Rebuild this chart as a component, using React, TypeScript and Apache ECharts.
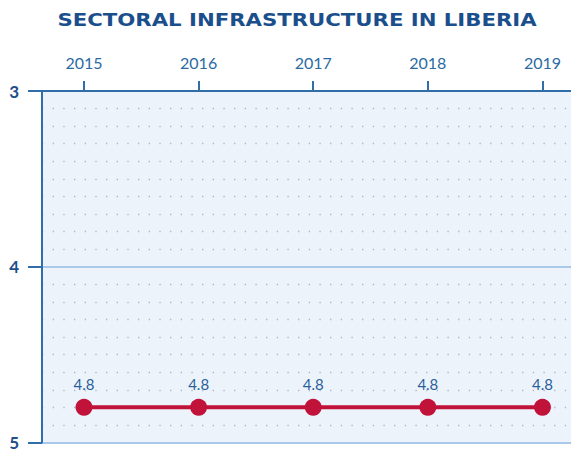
import React, { useEffect, useRef } from "react";
import * as echarts from "echarts";

const title = "SECTORAL INFRASTRUCTURE IN LIBERIA";
const years = [2015, 2016, 2017, 2018, 2019];
const values = [4.8, 4.8, 4.8, 4.8, 4.8];
const yTicks = [3, 4, 5];

export default function App() {
  const ref = useRef<HTMLDivElement>(null);
  useEffect(() => {
    if (!ref.current) return;
    const chart = echarts.init(ref.current, null, { renderer: "svg" });
    const axisColor = "#2f6ea8";
    chart.setOption({
      animation: false,
      backgroundColor: "#ffffff",
      graphic: [
        {
          type: "text",
          x: 297,
          y: 20,
          scaleX: 1.18,
          style: {
            text: title,
            fontFamily: "DejaVu Sans",
            fontWeight: "bold",
            fontSize: 18,
            fill: "#1b4f8c",
            align: "center",
            verticalAlign: "middle",
          },
        },
      ],
      grid: {
        left: 42,
        right: 0,
        top: 91,
        bottom: 5,
        show: true,
        backgroundColor: "#edf3fb",
        borderWidth: 0,
      },
      xAxis: {
        type: "value",
        position: "top",
        min: 2014.6335,
        max: 2019.249,
        axisLine: { show: true, lineStyle: { color: axisColor, width: 2 } },
        axisTick: {
          show: true,
          customValues: years,
          length: 10,
          lineStyle: { color: axisColor, width: 2 },
        },
        axisLabel: {
          customValues: years,
          margin: 21,
          fontFamily: "Lato",
          fontSize: 16,
          color: "#2b6aa3",
          formatter: (v: number) => String(Math.round(v)),
        },
        splitLine: { show: false },
      },
      yAxis: {
        type: "value",
        inverse: true,
        min: yTicks[0],
        max: yTicks[yTicks.length - 1],
        interval: 1,
        axisLine: { show: true, lineStyle: { color: axisColor, width: 2 } },
        axisTick: { show: true, length: 14, lineStyle: { color: axisColor, width: 2 } },
        axisLabel: {
          margin: 23,
          fontFamily: "Lato",
          fontWeight: "bold",
          fontSize: 17,
          color: "#1d4f8a",
        },
        splitLine: { show: true, lineStyle: { color: "#a9c9ea", width: 2 } },
        minorTick: { show: false, splitNumber: 10 },
        minorSplitLine: {
          show: true,
          lineStyle: { color: "#aab6c8", width: 1.3, type: [1.3, 9.37] },
        },
      },
      series: [
        {
          type: "line",
          data: years.map((y, i) => [y, values[i]]),
          lineStyle: { color: "#c1123a", width: 4 },
          itemStyle: { color: "#c1123a" },
          symbol: "circle",
          symbolSize: 17,
          label: {
            show: true,
            position: "top",
            distance: 7,
            fontFamily: "Lato",
            fontSize: 15,
            color: "#2a5f9a",
            formatter: (p: any) => p.value[1].toFixed(1),
          },
          z: 5,
        },
      ],
    });
    return () => chart.dispose();
  }, []);
  return <div ref={ref} style={{ width: 571, height: 451, position: "absolute", left: 0, top: 0 }} />;
}
